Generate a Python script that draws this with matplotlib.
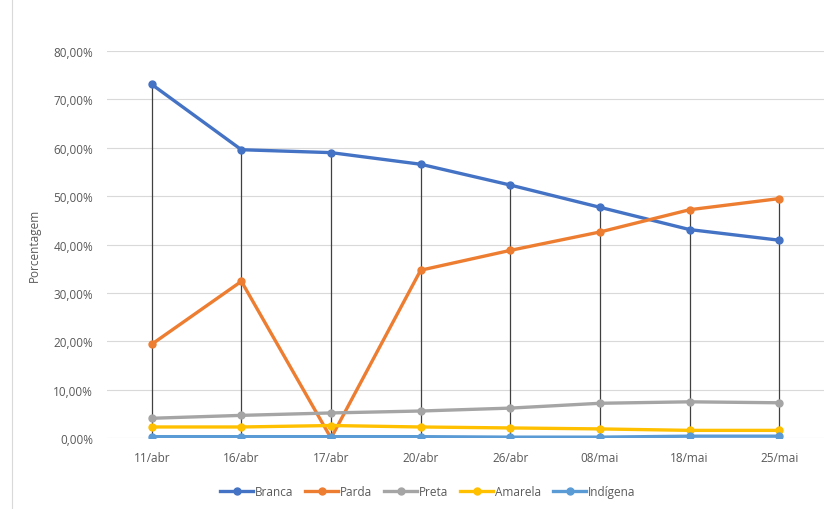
import matplotlib
matplotlib.use("Agg")
import matplotlib.pyplot as plt
from matplotlib.ticker import FuncFormatter

# dados
datas = ["11/abr", "16/abr", "17/abr", "20/abr", "26/abr", "08/mai", "18/mai", "25/mai"]
branca = [73.1, 59.6, 59.0, 56.6, 52.3, 47.7, 43.1, 40.9]
parda = [19.4, 32.4, 0.0, 34.7, 38.8, 42.6, 47.2, 49.5]
preta = [4.1, 4.7, 5.2, 5.6, 6.2, 7.2, 7.5, 7.3]
amarela = [2.3, 2.3, 2.6, 2.3, 2.1, 1.9, 1.6, 1.6]
indigena = [0.3, 0.3, 0.3, 0.3, 0.2, 0.2, 0.4, 0.4]

series = [
    ("Branca", branca, "#4472C4"),
    ("Parda", parda, "#ED7D31"),
    ("Preta", preta, "#A5A5A5"),
    ("Amarela", amarela, "#FFC000"),
    ("Indígena", indigena, "#5B9BD5"),
]

plt.rcParams['font.family'] = ['Open Sans', 'DejaVu Sans']

fig = plt.figure(figsize=(8.29, 5.10), dpi=100)
ax = fig.add_axes([0.129, 0.139, 0.865, 0.759])

x = list(range(len(datas)))

# linhas de projecao (do maior valor ate o eixo)
topo = [max(v) for v in zip(*[s[1] for s in series])]
ax.vlines(x, 0, topo, colors="#404040", linewidth=0.9, zorder=1)

for nome, vals, cor in series:
    ax.plot(x, vals, color=cor, linewidth=2.4, marker='o', markersize=5,
            label=nome, zorder=3)

ax.set_xlim(-0.5, len(datas) - 0.5)
ax.set_ylim(0, 80)
ax.set_yticks(range(0, 81, 10))
ax.yaxis.set_major_formatter(FuncFormatter(lambda v, p: ("%.2f%%" % v).replace(".", ",")))
ax.set_xticks(x)
ax.set_xticklabels(datas)
ax.grid(axis='y', color="#D9D9D9", linewidth=0.8)
ax.set_axisbelow(True)
for s in ax.spines.values():
    s.set_visible(False)
ax.tick_params(axis='both', length=0, colors="#595959", labelsize=8.5)
ax.tick_params(axis='y', pad=10)
ax.tick_params(axis='x', pad=9)
ax.set_ylabel("Porcentagem", color="#595959", fontsize=8.5, labelpad=9)

fig.legend(loc='lower center', ncol=5, frameon=False, fontsize=8.5,
           bbox_to_anchor=(0.516, 0.0), handlelength=2.8, handletextpad=0.15,
           columnspacing=1.0, labelcolor="#595959")

# borda esquerda da area do grafico
fig.add_artist(plt.Line2D([0.015, 0.015], [0.0, 1.0], color="#D9D9D9", linewidth=0.8))

fig.savefig("out.png", dpi=100, facecolor="white")
